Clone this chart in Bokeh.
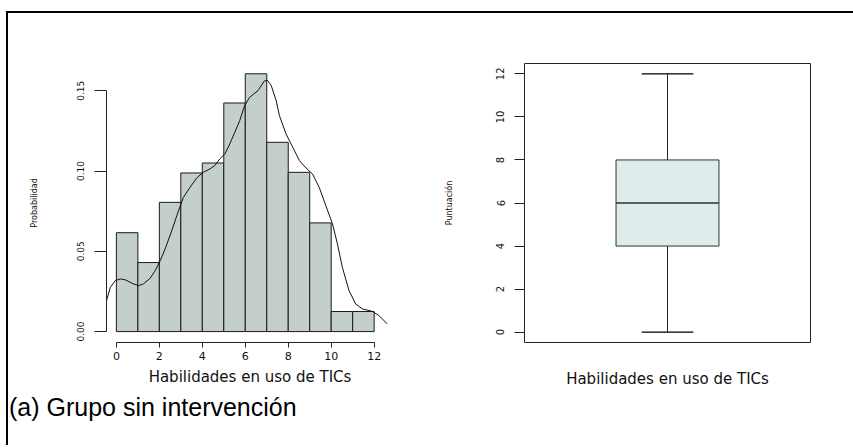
from bokeh.plotting import figure
from bokeh.models import FixedTicker, ColumnDataSource, Div, Range1d
from bokeh.layouts import row, column
from bokeh.embed import file_html
from bokeh.resources import INLINE

# ---- data ----
bin_left = [0, 1, 2, 3, 4, 5, 6, 7, 8, 9, 10, 11]
bin_right = [1, 2, 3, 4, 5, 6, 7, 8, 9, 10, 11, 12]
density = [0.0616, 0.0430, 0.0805, 0.0988, 0.1050, 0.1424, 0.1606, 0.1179, 0.0992, 0.0677, 0.0125, 0.0125]

kde_x = [-0.46, -0.28, -0.05, 0.19, 0.42, 0.73, 1.03, 1.26, 1.57, 1.81, 2.04, 2.27, 2.58, 2.84,
         3.12, 3.43, 3.74, 4.04, 4.35, 4.58, 4.81, 5.05, 5.28, 5.51, 5.74, 5.97, 6.20, 6.59,
         6.90, 7.05, 7.21, 7.44, 7.59, 7.90, 8.21, 8.52, 8.83, 9.13, 9.44, 9.75, 10.06, 10.29,
         10.52, 10.83, 11.14, 11.45, 11.91, 12.22, 12.61]
kde_y = [0.0193, 0.0276, 0.0318, 0.0328, 0.0322, 0.0301, 0.0286, 0.0297, 0.0332, 0.0380, 0.0442,
         0.0515, 0.0629, 0.0733, 0.0836, 0.0899, 0.0957, 0.0992, 0.1013, 0.1034, 0.1075, 0.1107,
         0.1169, 0.1241, 0.1314, 0.1407, 0.1459, 0.1501, 0.1563, 0.1563, 0.1532, 0.1438, 0.1345,
         0.1231, 0.1148, 0.1065, 0.1019, 0.0982, 0.0899, 0.0785, 0.0671, 0.0546, 0.0400, 0.0255,
         0.0172, 0.0141, 0.0126, 0.0100, 0.0048]

hist_x_ticks = [0, 2, 4, 6, 8, 10, 12]
hist_y_ticks = [0.0, 0.05, 0.10, 0.15]
hist_y_labels = ["0.00", "0.05", "0.10", "0.15"]

box_min = [0]
box_q1 = [4]
box_median = [6]
box_q3 = [8]
box_max = [12]
box_y_ticks = [0, 2, 4, 6, 8, 10, 12]

x_title = "Habilidades en uso de TICs"
y_title_hist = "Probabilidad"
y_title_box = "Puntuación"
caption = "(a) Grupo sin intervención"

AX_FONT = "DejaVu Sans"
TXT = "#111111"

# ---- histogram ----
p1 = figure(width=430, height=377, x_range=Range1d(-0.46, 12.9), y_range=Range1d(-0.0068, 0.167),
            output_backend="svg", toolbar_location=None,
            min_border_left=98, min_border_right=45, min_border_top=50, min_border_bottom=48)
p1.grid.visible = False
p1.outline_line_color = None

src = ColumnDataSource(dict(left=bin_left, right=bin_right, top=density))
p1.quad(left="left", right="right", top="top", bottom=0, source=src,
        fill_color="#c3cecd", line_color="#1a1a1a", line_width=1)
p1.line(kde_x, kde_y, line_color="#111111", line_width=1)

xa = p1.xaxis[0]
xa.ticker = FixedTicker(ticks=hist_x_ticks)
xa.bounds = (0, 12)
xa.axis_line_color = "#222222"
xa.major_tick_line_color = "#222222"
xa.minor_tick_line_color = None
xa.major_tick_out = 5
xa.major_tick_in = 0
xa.major_label_standoff = 4
xa.major_label_text_font = AX_FONT
xa.major_label_text_font_size = "11px"
xa.major_label_text_color = TXT
xa.axis_label = x_title
xa.axis_label_text_font = AX_FONT
xa.axis_label_text_font_style = "normal"
xa.axis_label_text_font_size = "15px"
xa.axis_label_text_color = TXT
xa.axis_label_standoff = 5

ya = p1.yaxis[0]
ya.ticker = FixedTicker(ticks=hist_y_ticks)
ya.major_label_overrides = {t: l for t, l in zip(hist_y_ticks, hist_y_labels)}
ya.bounds = (0, 0.15)
ya.axis_line_color = "#222222"
ya.major_tick_line_color = "#222222"
ya.minor_tick_line_color = None
ya.major_tick_out = 12
ya.major_tick_in = 0
ya.major_label_standoff = 10
ya.major_label_orientation = "vertical"
ya.major_label_text_font = AX_FONT
ya.major_label_text_font_size = "9px"
ya.major_label_text_color = TXT
ya.axis_label = y_title_hist
ya.axis_label_text_font = AX_FONT
ya.axis_label_text_font_style = "normal"
ya.axis_label_text_font_size = "8px"
ya.axis_label_text_color = TXT
ya.axis_label_standoff = 36

# ---- boxplot ----
p2 = figure(width=405, height=377, x_range=Range1d(0.5, 1.5), y_range=Range1d(-0.48, 12.48),
            output_backend="svg", toolbar_location=None,
            min_border_left=86, min_border_right=33, min_border_top=50, min_border_bottom=48)
p2.grid.visible = False
p2.outline_line_color = "#222222"
p2.outline_line_width = 1

bsrc = ColumnDataSource(dict(x=[1.0], lo=box_min, q1=box_q1, med=box_median, q3=box_q3, hi=box_max))
p2.segment(x0="x", y0="q3", x1="x", y1="hi", source=bsrc, line_color="#222222", line_width=1)
p2.segment(x0="x", y0="lo", x1="x", y1="q1", source=bsrc, line_color="#222222", line_width=1)
p2.vbar(x="x", width=0.36, bottom="q1", top="q3", source=bsrc,
        fill_color="#dfecec", line_color="#333333", line_width=1)
p2.rect(x="x", y="med", width=0.36, height=0.0001, source=bsrc, line_color="#333333", line_width=1,
        fill_color=None)
p2.rect(x="x", y="hi", width=0.18, height=0.0001, source=bsrc, line_color="#222222", line_width=1,
        fill_color=None)
p2.rect(x="x", y="lo", width=0.18, height=0.0001, source=bsrc, line_color="#222222", line_width=1,
        fill_color=None)

xb = p2.xaxis[0]
xb.ticker = FixedTicker(ticks=[])
xb.axis_line_color = None
xb.major_tick_line_color = None
xb.minor_tick_line_color = None
xb.major_tick_out = 0
xb.axis_label = x_title
xb.axis_label_text_font = AX_FONT
xb.axis_label_text_font_style = "normal"
xb.axis_label_text_font_size = "15px"
xb.axis_label_text_color = TXT
xb.axis_label_standoff = 27

yb = p2.yaxis[0]
yb.ticker = FixedTicker(ticks=box_y_ticks)
yb.bounds = (0, 12)
yb.axis_line_color = None
yb.major_tick_line_color = "#222222"
yb.minor_tick_line_color = None
yb.major_tick_out = 10
yb.major_tick_in = 0
yb.major_label_standoff = 10
yb.major_label_orientation = "vertical"
yb.major_label_text_font = AX_FONT
yb.major_label_text_font_size = "10px"
yb.major_label_text_color = TXT
yb.axis_label = y_title_box
yb.axis_label_text_font = AX_FONT
yb.axis_label_text_font_style = "normal"
yb.axis_label_text_font_size = "8px"
yb.axis_label_text_color = TXT
yb.axis_label_standoff = 40

cap = Div(text=caption, width=420, height=40, margin=(5, 0, 0, 1),
          styles={"font-family": "'Liberation Sans', Arial, sans-serif", "font-size": "25px",
                  "color": "#000000", "padding-top": "0px", "line-height": "25px"})

top_rule = Div(text="", width=847, height=2, margin=0, styles={"background-color": "#000000"})
left_rule = Div(text="", width=2, height=432, margin=0, styles={"background-color": "#000000"})
right_pad = Div(text="", width=8, height=377, margin=0, styles={"background-color": "#ffffff"})

layout = column(top_rule,
                row(left_rule, column(row(p1, p2, right_pad), cap)),
                styles={"margin-top": "11px", "margin-left": "6px"})

open("out.html", "w").write(file_html(layout, INLINE))
